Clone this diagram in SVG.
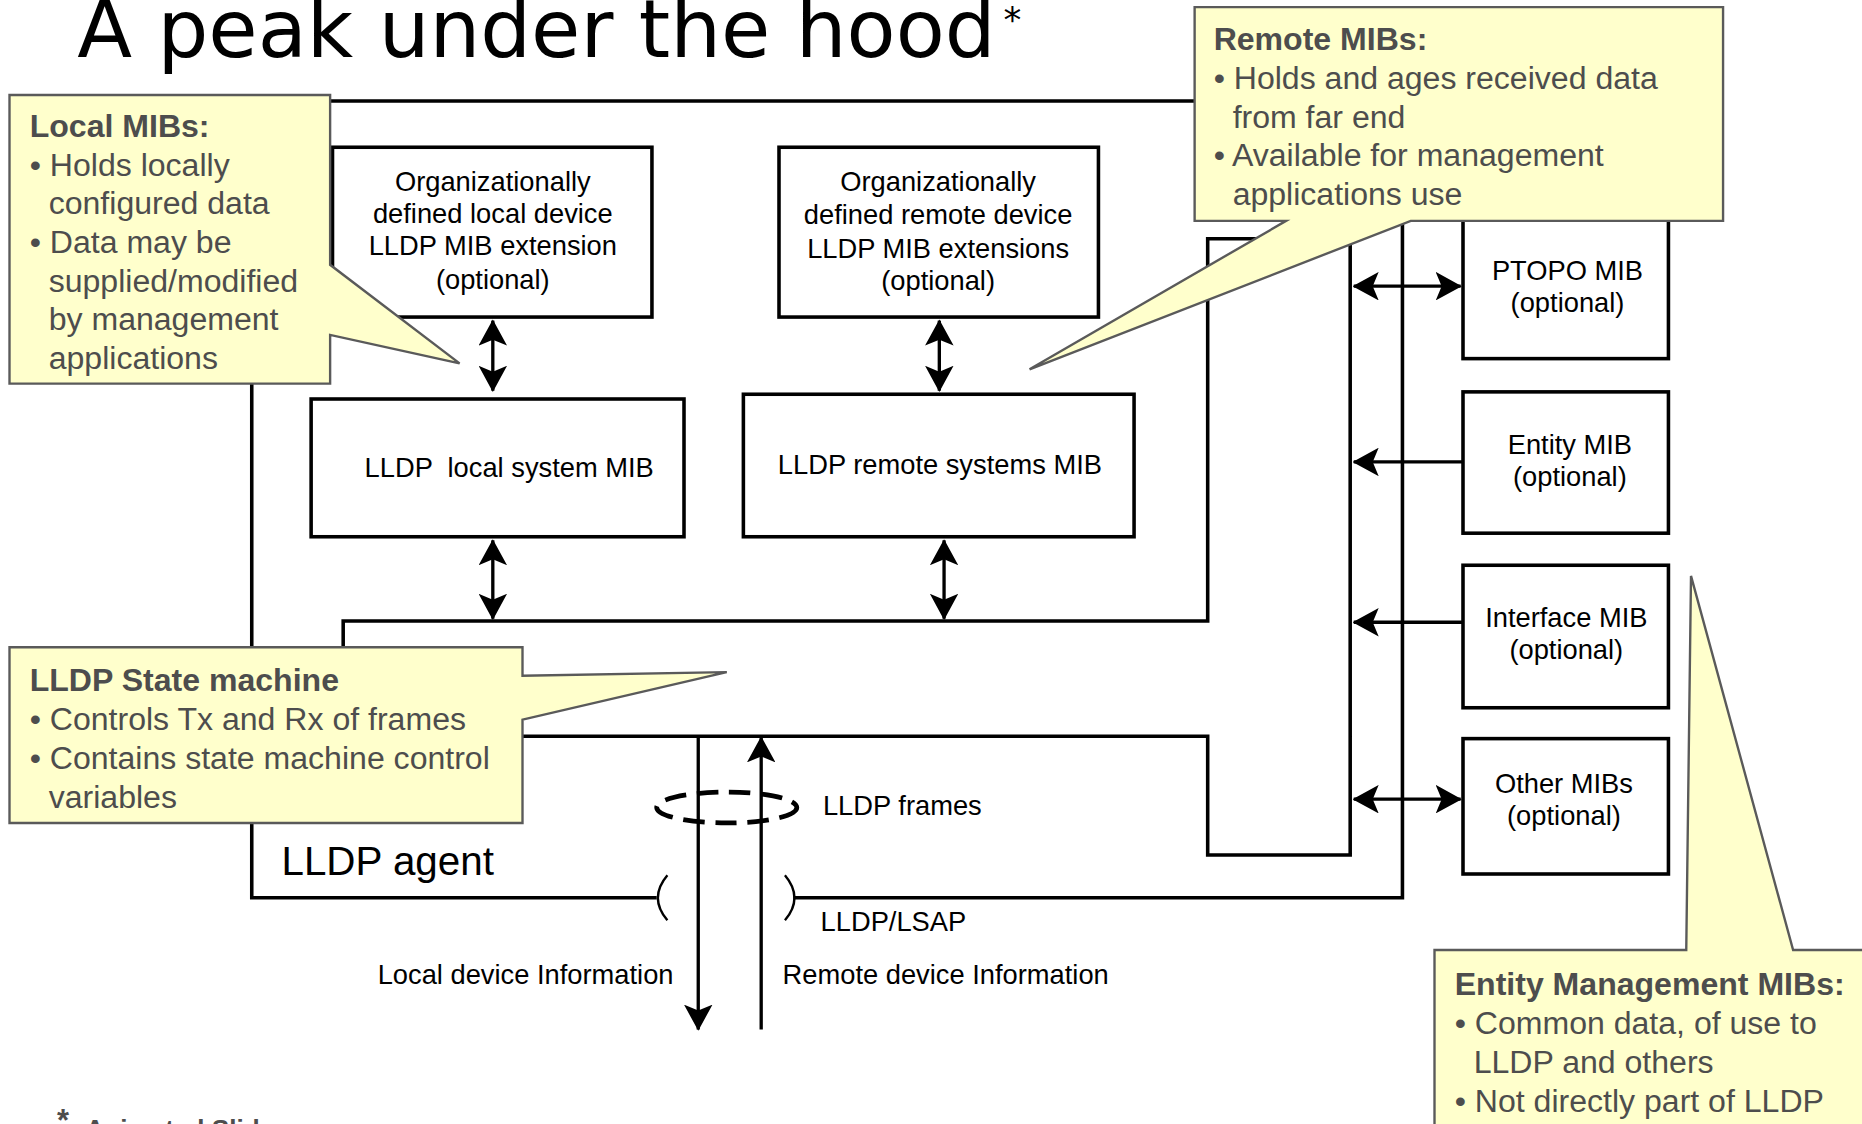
<svg xmlns="http://www.w3.org/2000/svg" width="1862" height="1124" viewBox="0 0 1862 1124">
<defs>
<marker id="ah" viewBox="0 0 22 24" refX="21" refY="12" markerWidth="22" markerHeight="24" markerUnits="userSpaceOnUse" orient="auto-start-reverse">
<path d="M0,0 L22,12 L0,24 L5,12 z" fill="#000"/>
</marker>
<style>
.ln{fill:none;stroke:#000;stroke-width:3}
.bx{fill:#fff;stroke:#000;stroke-width:3}
.ar{fill:none;stroke:#000;stroke-width:2.8;marker-end:url(#ah)}
.ar2{fill:none;stroke:#000;stroke-width:2.8;marker-end:url(#ah);marker-start:url(#ah)}
.t{font-family:"Liberation Sans",Arial,sans-serif;font-size:23px;fill:#000}
.tc{text-anchor:middle}
.co{fill:#FFFFCC;stroke:#5a5a5a;stroke-width:2}
.ct{font-family:"Liberation Sans",Arial,sans-serif;font-size:27px;fill:#4d4d4d}
.cb{font-weight:bold}
</style>
</defs>
<rect width="1862" height="1124" fill="#fff"/>
<g transform="scale(1.1875)">
<g id="title">
<text x="65" y="48" font-family="DejaVu Sans, Verdana, sans-serif" font-size="67.5" fill="#000">A peak under the hood</text>
<text x="845" y="27" font-family="DejaVu Sans, Verdana, sans-serif" font-size="30" fill="#000">*</text>
</g>
<g id="connectors">
<path id="lldp-agent-outline" class="ln" d="M553,756 L212,756 L212,85 L1181,85 L1181,756 L668,756"/>
<path id="state-machine-outline" class="ln" d="M289,620 L289,523 L1017,523 L1017,201 L1137,201 L1137,720 L1017,720 L1017,620 Z"/>
<path class="ln" d="M1137,186 L1137,201"/>
<path class="ar2" d="M415,270 L415,329"/>
<path class="ar2" d="M791,270 L791,329"/>
<path class="ar2" d="M415,455 L415,521"/>
<path class="ar2" d="M795,455 L795,521"/>
<path class="ar2" d="M1140,241 L1230,241"/>
<path class="ar" d="M1232,389 L1140,389"/>
<path class="ar" d="M1232,524 L1140,524"/>
<path class="ar2" d="M1140,673 L1230,673"/>
<path class="ar" d="M588,620 L588,867"/>
<path class="ar" d="M641,867 L641,621"/>
<ellipse cx="612" cy="680" rx="59" ry="13" fill="none" stroke="#000" stroke-width="4" stroke-dasharray="18 9"/>
<path d="M562,737 Q546,756 562,775" fill="none" stroke="#000" stroke-width="2"/>
<path d="M661,737 Q677,756 661,775" fill="none" stroke="#000" stroke-width="2"/>
</g>
<g id="local-ext">
<rect class="bx" x="280" y="124" width="269" height="143"/>
<text class="t tc" x="415" y="161">Organizationally</text>
<text class="t tc" x="415" y="188">defined local device</text>
<text class="t tc" x="415" y="215">LLDP MIB extension</text>
<text class="t tc" x="415" y="243">(optional)</text>
</g>
<g id="remote-ext">
<rect class="bx" x="656" y="124" width="269" height="143"/>
<text class="t tc" x="790" y="161">Organizationally</text>
<text class="t tc" x="790" y="189">defined remote device</text>
<text class="t tc" x="790" y="217">LLDP MIB extensions</text>
<text class="t tc" x="790" y="244">(optional)</text>
</g>
<g id="local-sys">
<rect class="bx" x="262" y="336" width="314" height="116"/>
<text class="t" x="307" y="402" style="white-space:pre">LLDP  local system MIB</text>
</g>
<g id="remote-sys">
<rect class="bx" x="626" y="332" width="329" height="120"/>
<text class="t" x="655" y="399">LLDP remote systems MIB</text>
</g>
<g id="ptopo">
<rect class="bx" x="1232" y="170" width="173" height="132"/>
<text class="t tc" x="1320" y="236">PTOPO MIB</text>
<text class="t tc" x="1320" y="263">(optional)</text>
</g>
<g id="entity">
<rect class="bx" x="1232" y="330" width="173" height="119"/>
<text class="t tc" x="1322" y="382">Entity MIB</text>
<text class="t tc" x="1322" y="409">(optional)</text>
</g>
<g id="interface">
<rect class="bx" x="1232" y="476" width="173" height="120"/>
<text class="t tc" x="1319" y="528">Interface MIB</text>
<text class="t tc" x="1319" y="555">(optional)</text>
</g>
<g id="other">
<rect class="bx" x="1232" y="622" width="173" height="114"/>
<text class="t tc" x="1317" y="668">Other MIBs</text>
<text class="t tc" x="1317" y="695">(optional)</text>
</g>
<g id="labels">
<text class="t" x="693" y="686">LLDP frames</text>
<text class="t" x="237" y="737" style="font-size:34px">LLDP agent</text>
<text class="t" x="691" y="784">LLDP/LSAP</text>
<text class="t" x="318" y="829">Local device Information</text>
<text class="t" x="659" y="829">Remote device Information</text>
</g>
<g id="callout-local">
<path class="co" d="M8,80 L278,80 L278,223 L387,306 L278,282 L278,323 L8,323 Z"/>
<text class="ct cb" x="25" y="115">Local MIBs:</text>
<text class="ct" x="25" y="148">• Holds locally</text>
<text class="ct" x="41" y="180.5">configured data</text>
<text class="ct" x="25" y="213">• Data may be</text>
<text class="ct" x="41" y="245.5">supplied/modified</text>
<text class="ct" x="41" y="278">by management</text>
<text class="ct" x="41" y="310.5">applications</text>
</g>
<g id="callout-remote">
<path class="co" d="M1006,6 L1451,6 L1451,186 L1188,186 L867,311 L1083,186 L1006,186 Z"/>
<text class="ct cb" x="1022" y="42">Remote MIBs:</text>
<text class="ct" x="1022" y="75">• Holds and ages received data</text>
<text class="ct" x="1038" y="107.5">from far end</text>
<text class="ct" x="1022" y="140">• Available for management</text>
<text class="ct" x="1038" y="172.5">applications use</text>
</g>
<g id="callout-state">
<path class="co" d="M8,545 L440,545 L440,569 L612,566 L440,606 L440,693 L8,693 Z"/>
<text class="ct cb" x="25" y="582">LLDP State machine</text>
<text class="ct" x="25" y="615">• Controls Tx and Rx of frames</text>
<text class="ct" x="25" y="647.5">• Contains state machine control</text>
<text class="ct" x="41" y="680">variables</text>
</g>
<g id="callout-entity">
<path class="co" d="M1208,800 L1420,800 L1424,485 L1510,800 L1580,800 L1580,960 L1208,960 Z"/>
<text class="ct cb" x="1225" y="838">Entity Management MIBs:</text>
<text class="ct" x="1225" y="871">• Common data, of use to</text>
<text class="ct" x="1241" y="903.5">LLDP and others</text>
<text class="ct" x="1225" y="936">• Not directly part of LLDP</text>
</g>
<g id="footer">
<text x="48" y="952" font-family="Liberation Sans, Arial, sans-serif" font-size="26" font-weight="bold" fill="#4d4d4d">*</text>
<text x="72" y="958" font-family="Liberation Sans, Arial, sans-serif" font-size="22" font-weight="bold" fill="#4d4d4d">Animated Slide</text>
</g>
</g>
</svg>
